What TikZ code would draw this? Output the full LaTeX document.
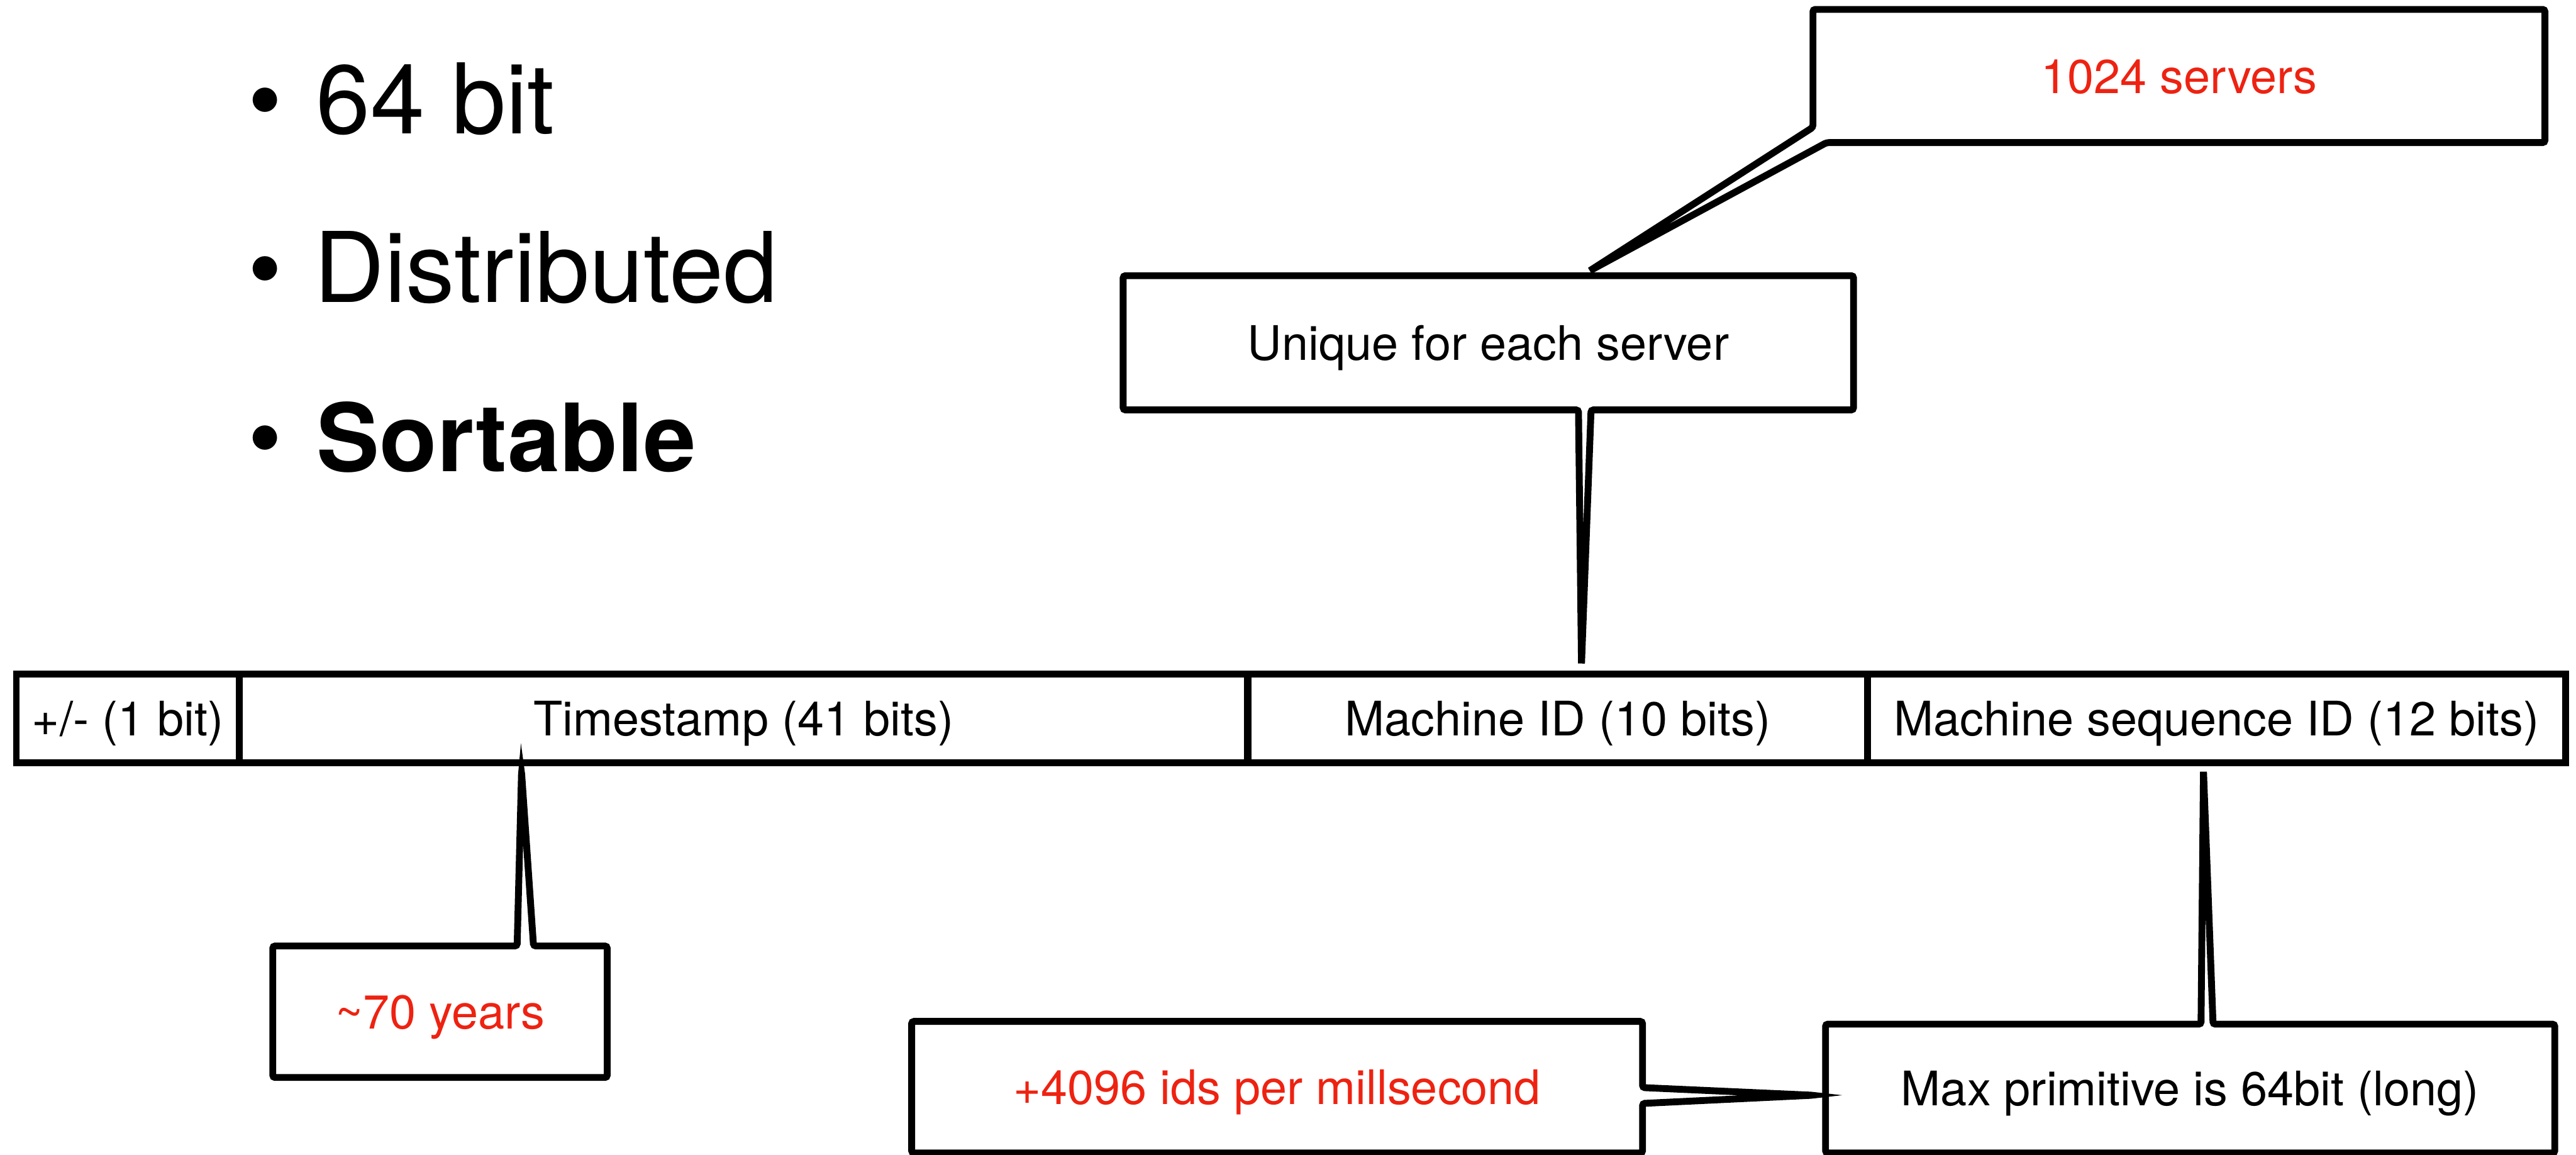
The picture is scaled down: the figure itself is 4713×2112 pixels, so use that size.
\documentclass[tikz,border=0pt]{standalone}
\usepackage{fontspec}
\setmainfont{TeX Gyre Heros}
\usetikzlibrary{calc}
\definecolor{notered}{RGB}{238,34,17}
\newcommand\mysmallfont{\fontsize{24.75pt}{30pt}\selectfont}
\newcommand\mybigfont{\fontsize{50.7pt}{60pt}\selectfont}
\newcommand\myboldfont{\fontsize{49pt}{60pt}\selectfont\bfseries}

\begin{document}
\begin{tikzpicture}[x=0.01cm, y=-0.01cm,
  outline/.style={line width=3.56pt, line join=miter, rounded corners=1.2pt},
  cell/.style={draw, line width=3.56pt, line join=miter, inner sep=0pt,
    minimum height=1.62cm, font=\mysmallfont, text height=24pt, text depth=6pt},
  note/.style={inner sep=0pt, font=\mysmallfont, text height=24pt, text depth=6pt},
  big/.style={inner sep=0pt, font=\mybigfont}]

\useasboundingbox (0,0) rectangle (4713,2112);

% bullet list
\node[big, anchor=base] (d1) at (485,245) {\textbullet};
\node[big, anchor=base] (d2) at (485,553) {\textbullet};
\node[big, anchor=base] (d3) at (485,862) {\textbullet};
\node[big, anchor=base west] (b1) at (578,245) {64 bit};
\node[big, anchor=base west] (b2) at (574,553) {Distributed};
\node[big, anchor=base west, font=\myboldfont] (b3) at (579,862) {Sortable};

% the 64-bit layout
\node[cell, minimum width=4.08cm]  (sign) at (234,1314)    {+/- (1 bit)};
\node[cell, minimum width=18.45cm] (ts)   at (1360.5,1314) {Timestamp (41 bits)};
\node[cell, minimum width=11.34cm] (mid)  at (2850,1314)   {Machine ID (10 bits)};
\node[cell, minimum width=12.77cm] (seq)  at (4055.5,1314) {Machine sequence ID (12 bits)};

% callout texts
\node[note, minimum width=13.37cm, minimum height=2.42cm, text=notered] (servers) at (3986.5,139) {1024 servers};
\node[note, minimum width=13.34cm, minimum height=2.44cm] (unique) at (2723,627) {Unique for each server};
\node[note, minimum width=6.10cm, minimum height=2.39cm, text=notered] (years) at (805,1850.5) {\textasciitilde 70 years};
\node[note, minimum width=13.35cm, minimum height=2.39cm, text=notered] (rate) at (2336.5,1988.5) {+4096 ids per millsecond};
\node[note, minimum width=13.32cm, minimum height=2.34cm] (prim) at (4007,1991) {Max primitive is 64bit (long)};

% callout outlines with their pointers
\draw[outline] ($(servers.south west)+(0,-28)$) -- ($(unique.north west)+(852,-8)$)
  -- ($(servers.south west)+(25,0)$) -- (servers.south east) -- (servers.north east)
  -- (servers.north west) -- cycle;

\draw[outline] ($(unique.south west)+(833,0)$) -- ($(mid.north west)+(617,-11)$)
  -- ($(unique.south west)+(856,0)$) -- (unique.south east) -- (unique.north east)
  -- (unique.north west) -- (unique.south west) -- cycle;

\draw[outline] ($(years.north west)+(447,0)$) -- ($(ts.south west)+(523,11)$)
  -- ($(years.north west)+(477,0)$) -- (years.north east) -- (years.south east)
  -- (years.south west) -- (years.north west) -- cycle;

\draw[outline] ($(prim.north west)+(687,0)$) -- ($(seq.south west)+(621,8)$)
  -- ($(prim.north west)+(709,0)$) -- (prim.north east) -- (prim.south east)
  -- (prim.south west) -- (prim.north west) -- cycle;

\draw[outline] ($(rate.north east)+(0,121)$) -- ($(prim.north west)+(-23,130)$)
  -- ($(rate.north east)+(0,150)$) -- (rate.south east) -- (rate.south west)
  -- (rate.north west) -- (rate.north east) -- cycle;

\end{tikzpicture}
\end{document}
